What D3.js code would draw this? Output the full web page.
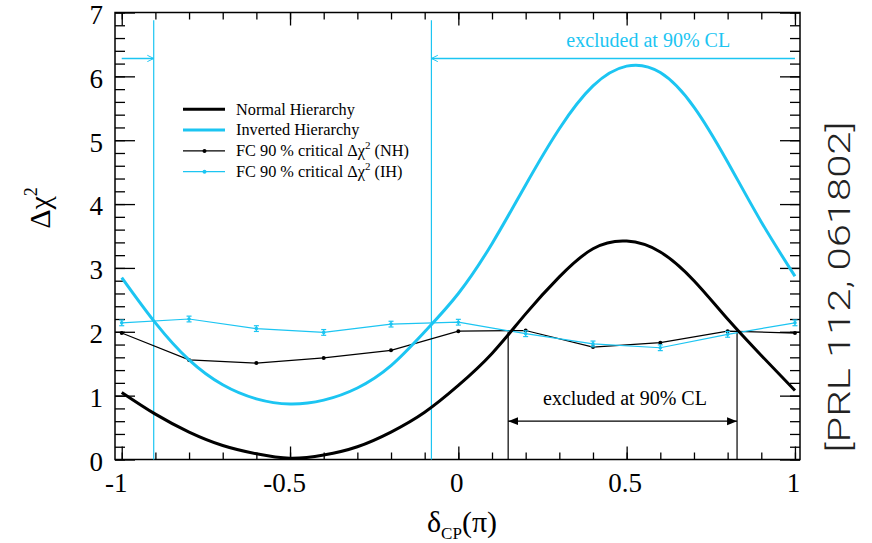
<!DOCTYPE html>
<html>
<head>
<meta charset="utf-8">
<script src="https://cdn.jsdelivr.net/npm/d3@7"></script>
<style>
  body { margin: 0; background: #fff; }
  svg { display: block; }
</style>
</head>
<body>
<svg id="chart" width="872" height="543"></svg>
<script>
// δCP grid (units of π) for the Δχ² scans
const deltaGrid = [-1, -0.9, -0.8, -0.7, -0.6, -0.5, -0.4, -0.3, -0.2, -0.1, 0,
                   0.1, 0.2, 0.3, 0.4, 0.5, 0.6, 0.7, 0.8, 0.9, 1];
const chi2Normal = [1.05, 0.71, 0.43, 0.22, 0.09, 0.02, 0.07, 0.20, 0.43, 0.74, 1.16,
                    1.66, 2.28, 2.86, 3.30, 3.42, 3.25, 2.80, 2.20, 1.63, 1.08];
const chi2Inverted = [2.85, 2.14, 1.56, 1.17, 0.95, 0.87, 0.93, 1.12, 1.47, 2.00, 2.60,
                      3.38, 4.30, 5.18, 5.85, 6.16, 6.06, 5.52, 4.66, 3.72, 2.87];

// Feldman-Cousins 90% critical Δχ² values
const fcDelta = [-1, -0.8, -0.6, -0.4, -0.2, 0, 0.2, 0.4, 0.6, 0.8, 1];
const fcCritNH = [1.98, 1.56, 1.51, 1.59, 1.71, 2.01, 2.02, 1.76, 1.83, 2.01, 1.98];
const fcCritIH = [2.14, 2.20, 2.05, 1.99, 2.12, 2.15, 1.97, 1.81, 1.75, 1.96, 2.14];
const fcCritIHErr = [0.045, 0.045, 0.045, 0.045, 0.045, 0.045, 0.045, 0.045, 0.045, 0.045, 0.045];

// 90% CL exclusion boundaries
const ihBounds = [-0.905, -0.08];
const nhBounds = [0.148, 0.828];
const ihArrowLevel = 6.28;
const nhArrowLevel = 0.6;
const ihLineTop = 6.88;

// axis ticks
const xMajorTicks = [-1, -0.5, 0, 0.5, 1];
const xMinorTicks = d3.range(-10, 11).map(i => i / 10);
const yMajorTicks = [0, 1, 2, 3, 4, 5, 6, 7];
const yMinorTicks = d3.range(0, 36).map(i => i / 5);

const CYAN = "#1cc5f2";
const SERIF = "'Liberation Serif', 'Times New Roman', serif";

const svg = d3.select("#chart");
const frame = { left: 115, right: 800, top: 12.5, bottom: 459.5 };

const x = d3.scaleLinear().domain([-1.02, 1.015]).range([frame.left, frame.right]);
const y = d3.scaleLinear().domain([0, 7]).range([frame.bottom, frame.top]);

// markers for arrows
const defs = svg.append("defs");
defs.append("marker")
  .attr("id", "chevron").attr("markerUnits", "userSpaceOnUse")
  .attr("viewBox", "0 -5 10 10").attr("refX", 9).attr("refY", 0)
  .attr("markerWidth", 8).attr("markerHeight", 8).attr("orient", "auto")
  .append("path").attr("d", "M1,-4 L9,0 L1,4")
  .attr("fill", "none").attr("stroke", CYAN).attr("stroke-width", 1.2);
defs.append("marker")
  .attr("id", "tri").attr("markerUnits", "userSpaceOnUse")
  .attr("viewBox", "0 -5 10 10").attr("refX", 10).attr("refY", 0)
  .attr("markerWidth", 10).attr("markerHeight", 10).attr("orient", "auto-start-reverse")
  .append("path").attr("d", "M0,-4 L10,0 L0,4 Z").attr("fill", "#000");

// ticks on all four sides, pointing inward
function styleAxis(g) {
  g.select(".domain").remove();
  g.selectAll(".tick line").attr("stroke", "#000").attr("stroke-width", 1.3);
  g.selectAll("text").attr("font-family", SERIF).attr("font-size", 27).attr("fill", "#000");
}
const fmt = d => String(d);

svg.append("g").attr("transform", `translate(0,${frame.bottom})`)
  .call(d3.axisBottom(x).tickValues(xMinorTicks).tickSize(-7).tickFormat(""))
  .call(styleAxis);
svg.append("g").attr("transform", `translate(0,${frame.bottom})`)
  .call(d3.axisBottom(x).tickValues(xMajorTicks).tickSize(-13).tickPadding(13).tickFormat(fmt))
  .call(styleAxis)
  .call(g => g.selectAll("text").attr("dx", d => d < 0 ? -6 : -2));
svg.append("g").attr("transform", `translate(0,${frame.top})`)
  .call(d3.axisTop(x).tickValues(xMinorTicks).tickSize(-7).tickFormat(""))
  .call(styleAxis);
svg.append("g").attr("transform", `translate(0,${frame.top})`)
  .call(d3.axisTop(x).tickValues(xMajorTicks).tickSize(-13).tickFormat(""))
  .call(styleAxis);
svg.append("g").attr("transform", `translate(${frame.left},0)`)
  .call(d3.axisLeft(y).tickValues(yMinorTicks).tickSize(-10).tickFormat(""))
  .call(styleAxis);
svg.append("g").attr("transform", `translate(${frame.left},0)`)
  .call(d3.axisLeft(y).tickValues(yMajorTicks).tickSize(-20).tickPadding(12).tickFormat(fmt))
  .call(styleAxis)
  .call(g => g.selectAll("text").attr("dy", "0.4em"));
svg.append("g").attr("transform", `translate(${frame.right},0)`)
  .call(d3.axisRight(y).tickValues(yMinorTicks).tickSize(-10).tickFormat(""))
  .call(styleAxis);
svg.append("g").attr("transform", `translate(${frame.right},0)`)
  .call(d3.axisRight(y).tickValues(yMajorTicks).tickSize(-20).tickFormat(""))
  .call(styleAxis);

// frame
svg.append("rect")
  .attr("x", frame.left).attr("y", frame.top)
  .attr("width", frame.right - frame.left).attr("height", frame.bottom - frame.top)
  .attr("fill", "none").attr("stroke", "#000").attr("stroke-width", 1.5);

// exclusion boundary lines
svg.selectAll("line.ihb").data(ihBounds).join("line")
  .attr("x1", d => x(d)).attr("x2", d => x(d))
  .attr("y1", y(ihLineTop)).attr("y2", y(0))
  .attr("stroke", CYAN).attr("stroke-width", 1.2);
svg.selectAll("line.nhb").data(nhBounds).join("line")
  .attr("x1", d => x(d)).attr("x2", d => x(d))
  .attr("y1", y(2.0)).attr("y2", y(0))
  .attr("stroke", "#000").attr("stroke-width", 1.2);

// FC critical values
const fcLine = d3.line().x(d => x(d[0])).y(d => y(d[1]));
const nhFC = fcDelta.map((d, i) => [d, fcCritNH[i]]);
const ihFC = fcDelta.map((d, i) => [d, fcCritIH[i], fcCritIHErr[i]]);

svg.append("path").datum(nhFC).attr("d", fcLine)
  .attr("fill", "none").attr("stroke", "#000").attr("stroke-width", 1.2);
svg.selectAll("circle.fcnh").data(nhFC).join("circle")
  .attr("cx", d => x(d[0])).attr("cy", d => y(d[1])).attr("r", 2).attr("fill", "#000");

svg.append("path").datum(ihFC).attr("d", fcLine)
  .attr("fill", "none").attr("stroke", CYAN).attr("stroke-width", 1.2);
const eb = svg.append("g").attr("stroke", CYAN).attr("stroke-width", 1.2);
ihFC.forEach(d => {
  const cx = x(d[0]), lo = y(d[1] - d[2]), hi = y(d[1] + d[2]);
  eb.append("line").attr("x1", cx).attr("x2", cx).attr("y1", lo).attr("y2", hi);
  eb.append("line").attr("x1", cx - 2.5).attr("x2", cx + 2.5).attr("y1", lo).attr("y2", lo);
  eb.append("line").attr("x1", cx - 2.5).attr("x2", cx + 2.5).attr("y1", hi).attr("y2", hi);
});
svg.selectAll("circle.fcih").data(ihFC).join("circle")
  .attr("cx", d => x(d[0])).attr("cy", d => y(d[1])).attr("r", 1.8).attr("fill", CYAN);

// Δχ² curves
const curve = d3.line().x(d => x(d[0])).y(d => y(d[1])).curve(d3.curveNatural);
svg.append("path").datum(deltaGrid.map((d, i) => [d, chi2Inverted[i]])).attr("d", curve)
  .attr("fill", "none").attr("stroke", CYAN).attr("stroke-width", 3);
svg.append("path").datum(deltaGrid.map((d, i) => [d, chi2Normal[i]])).attr("d", curve)
  .attr("fill", "none").attr("stroke", "#000").attr("stroke-width", 3);

// exclusion arrows
svg.append("line")
  .attr("x1", x(-1)).attr("x2", x(ihBounds[0]))
  .attr("y1", y(ihArrowLevel)).attr("y2", y(ihArrowLevel))
  .attr("stroke", CYAN).attr("stroke-width", 1.3).attr("marker-end", "url(#chevron)");
svg.append("line")
  .attr("x1", x(1)).attr("x2", x(ihBounds[1]))
  .attr("y1", y(ihArrowLevel)).attr("y2", y(ihArrowLevel))
  .attr("stroke", CYAN).attr("stroke-width", 1.3).attr("marker-end", "url(#chevron)");
svg.append("line")
  .attr("x1", x(nhBounds[0])).attr("x2", x(nhBounds[1]))
  .attr("y1", y(nhArrowLevel)).attr("y2", y(nhArrowLevel))
  .attr("stroke", "#000").attr("stroke-width", 1.3)
  .attr("marker-start", "url(#tri)").attr("marker-end", "url(#tri)");

svg.append("text")
  .attr("x", x(0.564)).attr("y", y(6.46))
  .attr("text-anchor", "middle").attr("font-family", SERIF).attr("font-size", 20)
  .attr("fill", CYAN).text("excluded at 90% CL");
svg.append("text")
  .attr("x", x(0.495)).attr("y", y(0.853))
  .attr("text-anchor", "middle").attr("font-family", SERIF).attr("font-size", 20)
  .attr("fill", "#000").text("excluded at 90% CL");

// legend
const legend = svg.append("g").attr("font-family", SERIF).attr("font-size", 16.3);
const legendRows = [
  { label: "Normal Hierarchy", color: "#000", width: 3, marker: false },
  { label: "Inverted Hierarchy", color: CYAN, width: 3, marker: false },
  { label: "NH", color: "#000", width: 1.2, marker: true, fc: true },
  { label: "IH", color: CYAN, width: 1.2, marker: true, fc: true }
];
legendRows.forEach((r, i) => {
  const ly = 109.3 + i * 20.8;
  legend.append("line").attr("x1", 183).attr("x2", 225).attr("y1", ly).attr("y2", ly)
    .attr("stroke", r.color).attr("stroke-width", r.width);
  if (r.marker) legend.append("circle").attr("cx", 204.5).attr("cy", ly).attr("r", 2).attr("fill", r.color);
  const t = legend.append("text").attr("x", 236).attr("y", ly + 5.2).attr("fill", "#000");
  if (r.fc) {
    t.append("tspan").text("FC 90 % critical Δχ");
    t.append("tspan").attr("dy", -7).attr("font-size", 11).text("2");
    t.append("tspan").attr("dy", 7).text(` (${r.label})`);
  } else {
    t.text(r.label);
  }
});

// axis titles
const yTitle = svg.append("text")
  .attr("transform", `translate(50,208) rotate(-90)`)
  .attr("text-anchor", "middle").attr("font-family", SERIF).attr("font-size", 30).attr("fill", "#000");
yTitle.append("tspan").text("Δχ");
yTitle.append("tspan").attr("dy", -13).attr("font-size", 18).text("2");

const xTitle = svg.append("text")
  .attr("x", 462).attr("y", 532)
  .attr("text-anchor", "middle").attr("font-family", SERIF).attr("font-size", 30).attr("fill", "#000");
xTitle.append("tspan").text("δ");
xTitle.append("tspan").attr("dy", 7).attr("font-size", 17).text("CP");
xTitle.append("tspan").attr("dy", -7).text("(π)");

// reference tag
svg.append("text")
  .attr("transform", "translate(850,287) rotate(-90)")
  .attr("text-anchor", "middle")
  .attr("font-family", "Roboto, 'Liberation Sans', Arial, sans-serif")
  .attr("font-weight", 300).attr("font-size", 32)
  .attr("textLength", 331).attr("lengthAdjust", "spacingAndGlyphs")
  .attr("fill", "#222").text("[PRL 112, 061802]");
</script>
</body>
</html>
